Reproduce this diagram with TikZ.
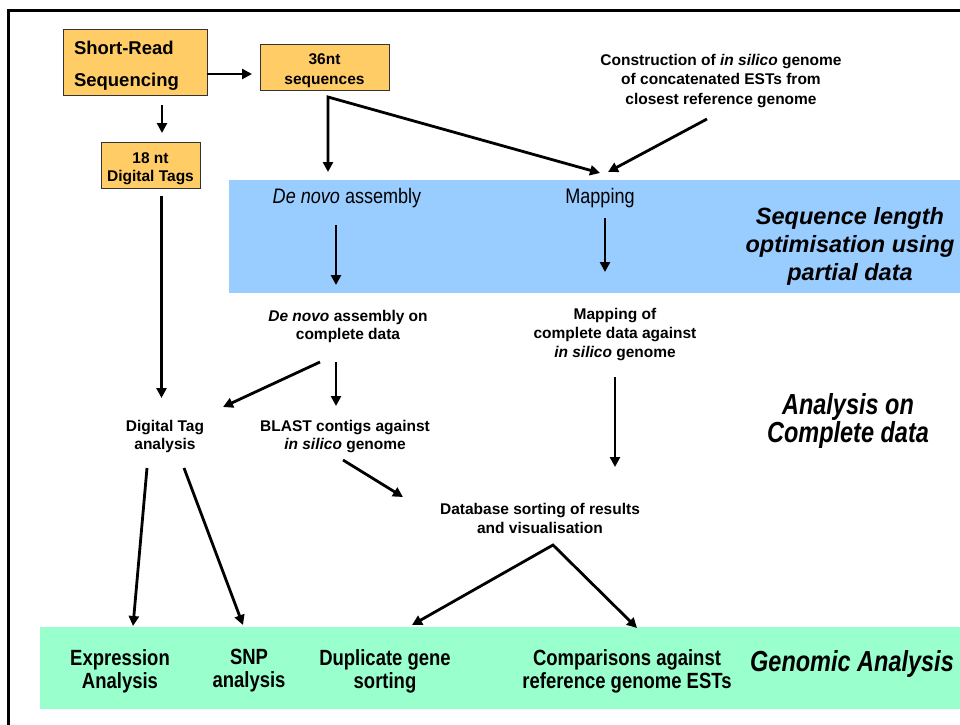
\documentclass[tikz,border=0pt]{standalone}
\usepackage{fontspec}
\setmainfont{Liberation Sans}
\newfontfamily\condA{Liberation Sans}[FakeStretch=0.86]
\newfontfamily\condB{Liberation Sans}[FakeStretch=0.84]
\newfontfamily\condC{Liberation Sans}[FakeStretch=0.81]
\usetikzlibrary{arrows.meta,calc}
\definecolor{boxorange}{HTML}{FFCC66}
\definecolor{bandblue}{HTML}{99CCFF}
\definecolor{bandgreen}{HTML}{99FFCC}
\begin{document}
\begin{tikzpicture}[x=1pt,y=-1pt,
  obox/.style={draw=black!80,line width=0.8pt,fill=boxorange,inner sep=0pt},
  lbl/.style={font=\fontsize{15.5}{18.5}\selectfont\bfseries,align=center,inner sep=0pt},
  midlbl/.style={font=\condA\fontsize{21}{24}\selectfont,inner sep=0pt},
  head/.style={font=\fontsize{23.5}{28}\selectfont\bfseries\itshape,align=center,inner sep=0pt},
  headc/.style={font=\condC\fontsize{29}{28}\selectfont\bfseries\itshape,align=center,inner sep=0pt},
  botlbl/.style={font=\condB\fontsize{22}{23}\selectfont\bfseries,align=center,inner sep=0pt},
  arr/.style={line width=2.8pt,-{Triangle[length=10pt,width=10pt]}},
  darr/.style={line width=2.8pt,{Triangle[length=10pt,width=10pt]}-{Triangle[length=10pt,width=10pt]}}]
\useasboundingbox (0,0) rectangle (960,724);
\clip (0,0) rectangle (960,724);
% frame
\draw[line width=3pt] (8.5,730) -- (8.5,10.5) -- (970,10.5);
% bands
\fill[bandblue] (229,180) rectangle (970,293);
\fill[bandgreen] (40,627) rectangle (970,709);
% boxes
\node[obox,minimum width=144pt,minimum height=66pt,text width=122pt,align=left,
  font=\fontsize{18.5}{32}\selectfont\bfseries] (sr) at (135,62) {\rule{0pt}{21.5pt}Short-Read\\Sequencing};
\node[obox,minimum width=129pt,minimum height=46pt,align=center,
  font=\fontsize{15.5}{20}\selectfont\bfseries] (nt36) at (324.5,67) {\rule{0pt}{18pt}36nt\\sequences};
\node[obox,minimum width=99pt,minimum height=46pt,align=center,
  font=\fontsize{15.5}{18}\selectfont\bfseries] (tags) at (150.5,165) {\rule{0pt}{19pt}18 nt\\Digital Tags};
% texts
\node[lbl,font=\fontsize{15.5}{19.2}\selectfont\bfseries] (cons) at (721,81)
  {Construction of \textit{in silico} genome\\of concatenated ESTs from\\closest reference genome};
\node[midlbl] (denovo) at (347,198.5) {\textit{De novo} assembly};
\node[midlbl] (mapping) at (600,198.5) {Mapping};
\node[head] (seqlen) at (850,246) {Sequence length\\optimisation using\\partial data};
\node[lbl] (dnc) at (348,326.5) {\textit{De novo} assembly on\\complete data};
\node[lbl,font=\fontsize{15.5}{19}\selectfont\bfseries] (mapc) at (615,334.5)
  {Mapping of\\complete data against\\\textit{in silico} genome};
\node[lbl] (dta) at (165,436.5) {Digital Tag\\analysis};
\node[lbl] (blast) at (345,436.5) {BLAST contigs against\\\textit{in silico} genome};
\node[headc] (acd) at (848,421) {Analysis on\\Complete data};
\node[lbl,font=\fontsize{15.5}{19}\selectfont\bfseries] (db) at (540,518.5)
  {Database sorting of results\\and visualisation};
\node[botlbl] (expr) at (120,671) {Expression\\Analysis};
\node[botlbl] (snp) at (249,671) {SNP\\analysis};
\node[botlbl] (dup) at (385,671) {Duplicate gene\\sorting};
\node[botlbl] (comp) at (627,671) {Comparisons against\\reference genome ESTs};
\node[headc] (gen) at (852,664) {Genomic Analysis};
% connectors
\draw[arr] ($(sr)+(72,12)$) -- ($(nt36)+(-72.5,7)$);
\draw[arr] ($(sr)+(27,43)$) -- ($(tags)+(11.5,-32)$);
\draw[darr,line join=miter] ($(denovo)+(-19,-26.5)$) -- ($(nt36)+(3.5,30)$) -- ($(mapping)+(0,-25.5)$);
\draw[arr] ($(cons)+(-14,38)$) -- ($(mapping)+(8,-26.5)$);
\draw[arr] ($(denovo)+(-11,26.5)$) -- ($(dnc)+(-12,-41.5)$);
\draw[arr] ($(mapping)+(5,19.5)$) -- ($(mapc)+(-10,-62.5)$);
\draw[arr] ($(tags)+(11,31)$) -- ($(dta)+(-3.5,-38.5)$);
\draw[arr] ($(dnc)+(-28,35.5)$) -- ($(dta)+(58,-29.5)$);
\draw[arr] ($(dnc)+(-12,35.5)$) -- ($(blast)+(-9,-30.5)$);
\draw[arr] ($(mapc)+(0,42.5)$) -- ($(db)+(75,-51.5)$);
\draw[arr] ($(blast)+(-2,23.5)$) -- ($(db)+(-137,-21.5)$);
\draw[darr,line join=miter] ($(dup)+(27,-46)$) -- ($(db)+(13,26.5)$) -- ($(comp)+(10,-43)$);
\draw[arr] ($(dta)+(-18,31.5)$) -- ($(expr)+(13,-45)$);
\draw[arr] ($(dta)+(19,31.5)$) -- ($(snp)+(-6,-46)$);
\end{tikzpicture}
\end{document}
